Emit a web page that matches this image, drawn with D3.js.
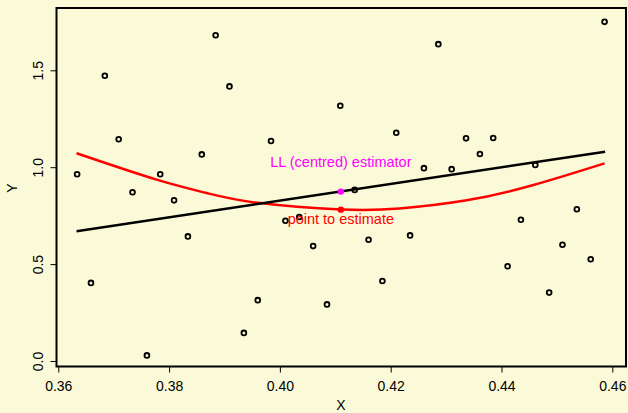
<!DOCTYPE html>
<html>
<head>
<meta charset="utf-8">
<script src="https://cdn.jsdelivr.net/npm/d3@7"></script>
<style>
  body { margin: 0; background: #FAFAD8; }
  svg { display: block; }
  text { font-family: "Liberation Sans", Arial, sans-serif; }
</style>
</head>
<body>
<div id="chart"></div>
<script>
// scatter data
var xs = [0.3634, 0.3659, 0.3684, 0.3709, 0.3734, 0.3760, 0.3784, 0.3809, 0.3834, 0.3859,
          0.3884, 0.3909, 0.3935, 0.3960, 0.3984, 0.4010, 0.4035, 0.4060, 0.4085, 0.4109,
          0.4135, 0.4160, 0.4185, 0.4210, 0.4235, 0.4260, 0.4286, 0.4310, 0.4336, 0.4361,
          0.4385, 0.4411, 0.4435, 0.4461, 0.4486, 0.4510, 0.4536, 0.4561, 0.4586];
var ys = [0.964, 0.403, 1.472, 1.144, 0.871, 0.029, 0.964, 0.829, 0.643, 1.066,
          1.681, 1.417, 0.145, 0.314, 1.135, 0.724, 0.743, 0.593, 0.292, 1.317,
          0.883, 0.626, 0.413, 1.178, 0.648, 0.995, 1.635, 0.990, 1.149, 1.068,
          1.151, 0.489, 0.729, 1.011, 0.353, 0.600, 0.783, 0.525, 1.750];

// local linear (centred) line
var lineX = [0.3633, 0.4587];
var lineY = [0.670, 1.080];

// red curve
var curveX = [0.3633, 0.3776, 0.3866, 0.3960, 0.4111, 0.4216, 0.4337, 0.4456, 0.4586];
var curveY = [1.072, 0.937, 0.868, 0.816, 0.782, 0.787, 0.829, 0.907, 1.020];

var x0 = 0.4110;
var llY = 0.874, ptY = 0.781;

var xTicks = [0.36, 0.38, 0.40, 0.42, 0.44, 0.46];
var yTicks = [0.0, 0.5, 1.0, 1.5];

var W = 628, H = 413;
var box = { left: 56.5, right: 626, top: 8, bottom: 366.5 };

var svg = d3.select("#chart").append("svg")
    .attr("width", W).attr("height", H);

var x = d3.scaleLinear().domain([0.35968, 0.46247]).range([box.left, box.right]);
var y = d3.scaleLinear().domain([-0.0284, 1.8215]).range([box.bottom, box.top]);

// x axis
var xAxis = d3.axisBottom(x).tickValues(xTicks).tickSize(6).tickFormat(d3.format(".2f"));
var gx = svg.append("g").attr("transform", "translate(0," + box.bottom + ")").call(xAxis);
gx.select(".domain").remove();
gx.selectAll("line").attr("stroke", "#000");
gx.selectAll("text").attr("font-size", 14).attr("fill", "#000").attr("dy", null).attr("y", 24);

// y axis
var yAxis = d3.axisLeft(y).tickValues(yTicks).tickSize(6).tickFormat(d3.format(".1f"));
var gy = svg.append("g").attr("transform", "translate(" + box.left + ",0)").call(yAxis);
gy.select(".domain").remove();
gy.selectAll("line").attr("stroke", "#000");
gy.selectAll("text")
    .attr("font-size", 14).attr("fill", "#000")
    .attr("x", null).attr("dy", null)
    .attr("text-anchor", "middle")
    .attr("transform", "translate(-14,0) rotate(-90)");

// box
svg.append("rect")
    .attr("x", box.left).attr("y", box.top)
    .attr("width", box.right - box.left).attr("height", box.bottom - box.top)
    .attr("fill", "none").attr("stroke", "#000").attr("stroke-width", 2);

svg.append("text").attr("x", 341).attr("y", 410).attr("text-anchor", "middle")
    .attr("font-size", 14).text("X");
svg.append("text").attr("transform", "translate(17,188) rotate(-90)")
    .attr("text-anchor", "middle").attr("font-size", 14).text("Y");

// points
svg.append("g").selectAll("circle")
    .data(d3.range(xs.length))
    .enter().append("circle")
    .attr("cx", function(i) { return x(xs[i]); })
    .attr("cy", function(i) { return y(ys[i]); })
    .attr("r", 2.4)
    .attr("fill", "none").attr("stroke", "#000").attr("stroke-width", 1.8);

var line = d3.line()
    .x(function(d) { return x(d[0]); })
    .y(function(d) { return y(d[1]); });

svg.append("path")
    .attr("d", line.curve(d3.curveNatural)(d3.zip(curveX, curveY)))
    .attr("fill", "none").attr("stroke", "#FF0000").attr("stroke-width", 2.5);

svg.append("path")
    .attr("d", line.curve(d3.curveLinear)(d3.zip(lineX, lineY)))
    .attr("fill", "none").attr("stroke", "#000").attr("stroke-width", 2.5);

svg.append("circle").attr("cx", x(x0)).attr("cy", y(llY)).attr("r", 3.2).attr("fill", "#FF00FF");
svg.append("circle").attr("cx", x(x0)).attr("cy", y(ptY)).attr("r", 3.2).attr("fill", "#FF0000");

svg.append("text").attr("x", x(x0)).attr("y", y(llY) - 25)
    .attr("text-anchor", "middle").attr("font-size", 14.5).attr("fill", "#FF00FF")
    .text("LL (centred) estimator");
svg.append("text").attr("x", x(x0)).attr("y", y(ptY) + 14)
    .attr("text-anchor", "middle").attr("font-size", 14.5).attr("fill", "#FF0000")
    .text("point to estimate");
</script>
</body>
</html>
